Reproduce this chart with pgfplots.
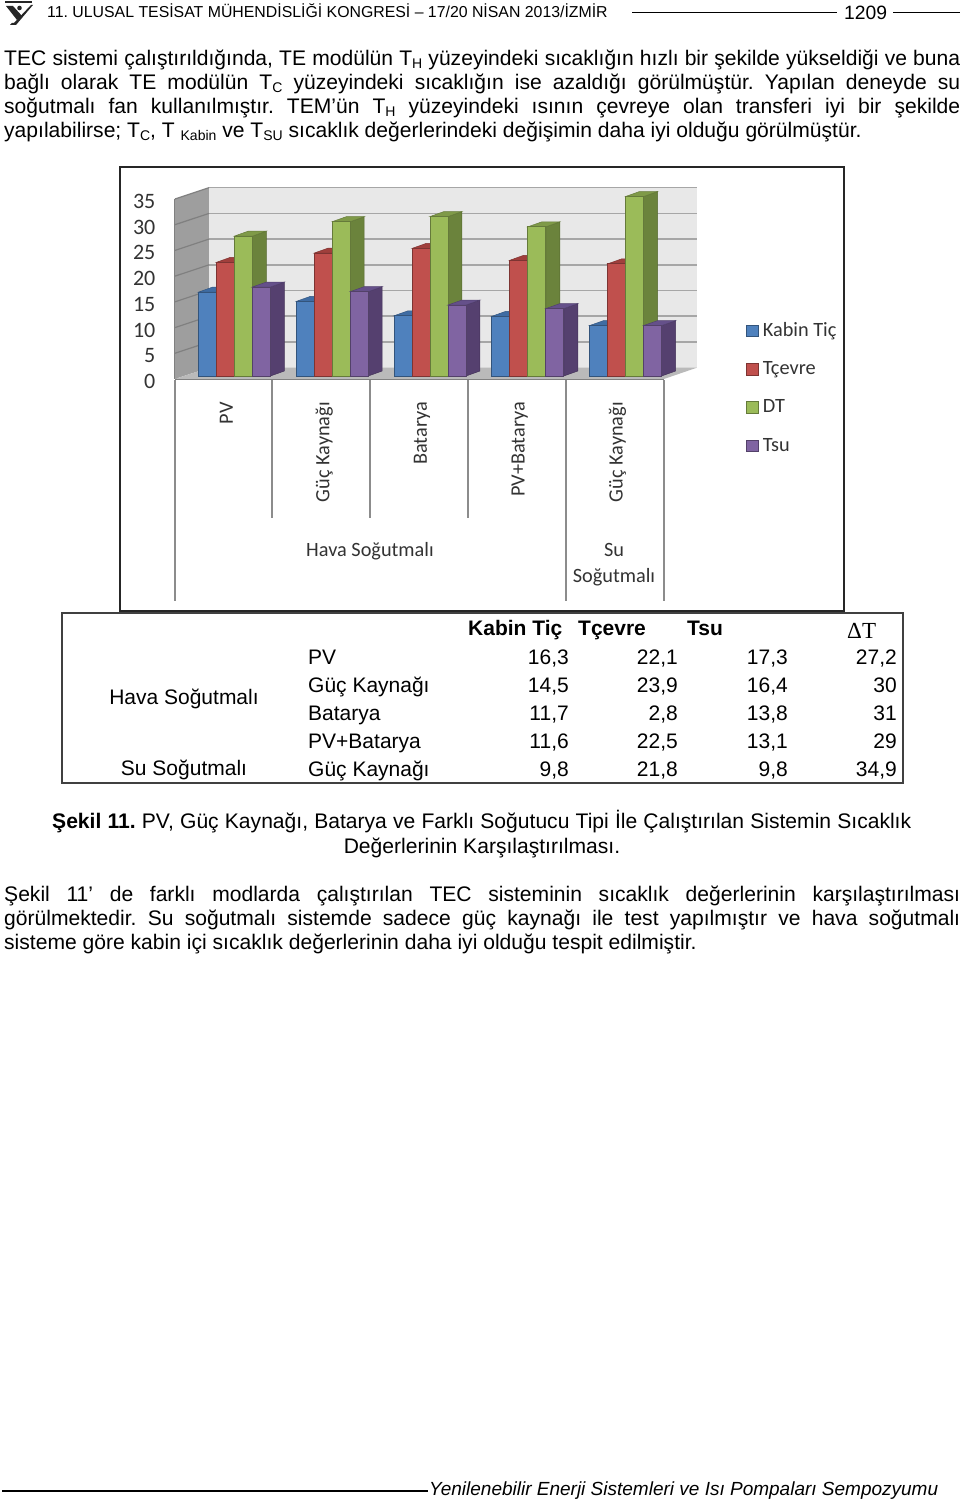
\documentclass[border=0pt]{standalone}
\usepackage{fontspec}
\usepackage{pgfplots}
\pgfplotsset{compat=1.18}
\setmainfont{Liberation Sans}
\newfontfamily\carl{Carlito}
\newfontfamily\timesf{Liberation Serif}
\frenchspacing
\definecolor{cb}{HTML}{4F81BD}\definecolor{cbs}{HTML}{3A5F8E}\definecolor{cbt}{HTML}{3F6CA3}
\definecolor{cr}{HTML}{C0504D}\definecolor{crs}{HTML}{8C3A38}\definecolor{crt}{HTML}{A03F3C}
\definecolor{cg}{HTML}{9BBB59}\definecolor{cgs}{HTML}{6B833C}\definecolor{cgt}{HTML}{7F9A48}
\definecolor{cp}{HTML}{8064A2}\definecolor{cps}{HTML}{55406F}\definecolor{cpt}{HTML}{65508A}
\newcommand\T[3]{\node[anchor=base west,inner sep=0pt] at (#1pt,1503pt-#2pt) {#3};}
\newcommand\R[3]{\node[anchor=base east,inner sep=0pt] at (#1pt,1503pt-#2pt) {#3};}
\newcommand\C[3]{\node[anchor=base,inner sep=0pt] at (#1pt,1503pt-#2pt) {#3};}
\newcommand\J[2]{\T{4}{#1}{\makebox[956pt][s]{#2}}}
\newcommand\sub[1]{\raisebox{-3.5pt}{\fontsize{14}{14}\selectfont #1}}
\pgfplotsset{sw/.style={legend image code/.code={\path[draw=none,fill=none] (0pt,0pt) rectangle (14pt,1pt);\fill[##1] (0pt,-5.5pt) rectangle (12pt,6pt);\draw[##1] (0pt,-5.5pt) rectangle (12pt,6pt);}}}
\newcommand\barseries[6]{%
  \gdef\coords{}%
  \pgfplotsforeachungrouped \c/\v in {#5}{%
    \pgfmathsetmacro\xa{\c+(#1-9)/97.8}%
    \pgfmathsetmacro\xb{\c+(#1+9)/97.8}%
    \pgfmathsetmacro\xc{\xb+0.143}%
    \pgfmathsetmacro\xd{\xa+0.143}%
    \pgfmathsetmacro\vt{\v+0.97}%
    \edef\tmp{\noexpand\addplot[forget plot,fill=#3,draw=#3!80!black,line width=0.5pt] coordinates {(\xb,0)(\xc,0.97)(\xc,\vt)(\xb,\v)} --cycle;
      \noexpand\addplot[forget plot,fill=#4,draw=#4!80!black,line width=0.5pt] coordinates {(\xa,\v)(\xb,\v)(\xc,\vt)(\xd,\vt)} --cycle;}%
    \tmp
    \xdef\coords{\coords(\c,\v)}%
  }%
  \edef\tmp{\noexpand\addplot[ybar,sw,bar width=18pt,bar shift=#1pt,fill=#2,draw=#2!65!black,line width=0.9pt] coordinates {\coords};}%
  \tmp
  \addlegendentry{#6}%
}
\begin{document}
\begin{tikzpicture}[x=1pt,y=1pt]
\fill[white] (0,0) rectangle (960,1503);
\path[use as bounding box] (0,0) rectangle (960,1503);
% header
\fill[black!85] (5,1503-1) rectangle (32,1503-3.5);
\fill[black!85] (6,1503-6) -- (13,1503-6) -- (22,1503-16) -- (17,1503-20) -- cycle;
\fill[black!85] (31,1503-5) -- (33,1503-5) -- (16,1503-25) -- (10,1503-25) -- (12,1503-23) -- (14,1503-23) -- cycle;
\fill[black!85] (19.5,1503-8) circle (2.3);
\fontsize{15.85}{19}\selectfont
\T{47}{18}{11. ULUSAL TESİSAT MÜHENDİSLİĞİ KONGRESİ – 17/20 NİSAN 2013/İZMİR}
\draw[black,line width=1pt] (632,1503-13) -- (837,1503-13);
\draw[black,line width=1pt] (893,1503-13) -- (960,1503-13);
\fontsize{19.3}{20}\selectfont
\T{844}{19.5}{1209}
% paragraph 1
\fontsize{21.08}{24}\selectfont
\J{65.5}{TEC sistemi çalıştırıldığında, TE modülün T\sub{H} yüzeyindeki sıcaklığın hızlı bir şekilde yükseldiği ve buna}
\J{89.5}{bağlı olarak TE modülün T\sub{C} yüzeyindeki sıcaklığın ise azaldığı görülmüştür. Yapılan deneyde su}
\J{113.5}{soğutmalı fan kullanılmıştır. TEM’ün T\sub{H} yüzeyindeki ısının çevreye olan transferi iyi bir şekilde}
\T{4}{137.5}{yapılabilirse; T\sub{C}, T \sub{Kabin} ve T\sub{SU} sıcaklık değerlerindeki değişimin daha iyi olduğu görülmüştür.}
% chart frame
\draw[black!85,line width=2pt] (120,1503-167) rectangle (844,1503-611);
% category separators
\begin{scope}[black!45,line width=1.2pt]
\foreach \x in {272,370,468} \draw (\x,1503-380) -- (\x,1503-518);
\foreach \x in {175,566,664} \draw (\x,1503-380) -- (\x,1503-601);
\end{scope}
% wall, floor, y axis, category labels
\begin{axis}[
  at={(175pt,1124pt)},anchor=south west,scale only axis,width=489pt,height=180pt,
  xmin=-0.5,xmax=4.5,ymin=0,ymax=35,clip=false,
  axis x line*=bottom,axis y line*=left,
  axis line style={-,draw=black!50,line width=1.3pt},
  ytick={0,5,...,35},xtick={0,1,2,3,4},
  xticklabels={PV,Güç Kaynağı,Batarya,PV+Batarya,Güç Kaynağı},
  /pgf/number format/assume math mode=true,
  x tick style={draw=none},major tick length=4pt,
  y tick style={draw=black!50,line width=1.2pt},
  xticklabel style={rotate=90,anchor=east,font=\carl\fontsize{20.3}{20}\selectfont,text=black!80,xshift=-23pt,yshift=-2.5pt,inner sep=0pt},
  yticklabel style={font=\carl\fontsize{22}{22}\selectfont,text=black!80,xshift=-19.5pt,yshift=-2.5pt,inner sep=0pt},
]
\addplot[forget plot,fill=black!38,draw=none] coordinates {(-0.5,0)(-0.152,2.2)(-0.152,37.2)(-0.5,35)} --cycle;
\addplot[forget plot,fill=black!9,draw=none] coordinates {(-0.152,2.2)(4.837,2.2)(4.837,37.2)(-0.152,37.2)} --cycle;
\addplot[forget plot,fill=black!27,draw=none] coordinates {(-0.5,0)(4.5,0)(4.837,2.2)(-0.152,2.2)} --cycle;
\pgfplotsforeachungrouped \k in {5,10,15,20,25,30,35}{%
  \pgfmathsetmacro\kk{\k+2.2}%
  \edef\tmp{\noexpand\addplot[forget plot,draw=black!35,line width=1.5pt] coordinates {(-0.152,\kk)(4.837,\kk)};
    \noexpand\addplot[forget plot,draw=black!50,line width=1.2pt] coordinates {(-0.5,\k)(-0.152,\kk)};}%
  \tmp
}
\end{axis}
% bars
\begin{axis}[
  at={(185.5pt,1127pt)},anchor=south west,scale only axis,width=489pt,height=180pt,
  xmin=-0.5,xmax=4.5,ymin=0,ymax=35,clip=false,hide axis,
  legend cell align=left,
  legend style={draw=none,fill=none,at={(1.147,0.309)},anchor=north west,inner sep=0pt,outer sep=0pt,
    font=\carl\fontsize{20.3}{20}\selectfont,text=black!80,
    /tikz/every even column/.style={column sep=0pt},row sep=18pt},
]
\barseries{-27}{cb}{cbs}{cbt}{0/16.3,1/14.5,2/11.7,3/11.6,4/9.8}{Kabin Tiç}
\barseries{-9}{cr}{crs}{crt}{0/22.1,1/23.9,2/24.8,3/22.5,4/21.8}{Tçevre}
\barseries{9}{cg}{cgs}{cgt}{0/27.2,1/30,2/31,3/29,4/34.9}{DT}
\barseries{27}{cp}{cps}{cpt}{0/17.3,1/16.4,2/13.8,3/13.1,4/9.8}{Tsu}
\end{axis}
% multi-level labels
\carl\fontsize{20.3}{20}\selectfont
\color{black!80}
\C{370}{557}{Hava Soğutmalı}
\C{614}{557}{Su}
\C{614}{583}{Soğutmalı}
\color{black}
\rmfamily\fontsize{21}{24}\selectfont
% table
\draw[black!75,line width=1.5pt] (62,1503-613) rectangle (903,1503-783);
\T{468}{636}{\bfseries Kabin Tiç}
\T{578}{636}{\bfseries Tçevre}
\T{687}{636}{\bfseries Tsu}
\T{847}{639}{\fontsize{23}{24}\timesf\selectfont ΔT}
\C{184}{705}{Hava Soğutmalı}
\C{184}{776}{Su Soğutmalı}
\T{308}{664.5}{PV}\T{308}{692.5}{Güç Kaynağı}\T{308}{720.5}{Batarya}\T{308}{748.5}{PV+Batarya}\T{308}{776.5}{Güç Kaynağı}
\R{569}{664.5}{16,3}\R{678}{664.5}{22,1}\R{788}{664.5}{17,3}\R{897}{664.5}{27,2}
\R{569}{692.5}{14,5}\R{678}{692.5}{23,9}\R{788}{692.5}{16,4}\R{897}{692.5}{30}
\R{569}{720.5}{11,7}\R{678}{720.5}{2,8}\R{788}{720.5}{13,8}\R{897}{720.5}{31}
\R{569}{748.5}{11,6}\R{678}{748.5}{22,5}\R{788}{748.5}{13,1}\R{897}{748.5}{29}
\R{569}{776.5}{9,8}\R{678}{776.5}{21,8}\R{788}{776.5}{9,8}\R{897}{776.5}{34,9}
% caption
\fontsize{21.08}{24}\selectfont
\T{52}{828.5}{\makebox[859pt][s]{\textbf{Şekil 11.} PV, Güç Kaynağı, Batarya ve Farklı Soğutucu Tipi İle Çalıştırılan Sistemin Sıcaklık}}
\C{482}{853.5}{Değerlerinin Karşılaştırılması.}
% paragraph 2
\J{901.5}{Şekil 11’ de farklı modlarda çalıştırılan TEC sisteminin sıcaklık değerlerinin karşılaştırılması}
\J{925.5}{görülmektedir. Su soğutmalı sistemde sadece güç kaynağı ile test yapılmıştır ve hava soğutmalı}
\T{4}{949.5}{sisteme göre kabin içi sıcaklık değerlerinin daha iyi olduğu tespit edilmiştir.}
% footer
\draw[black,line width=1.2pt] (2,1503-1491) -- (428,1503-1491);
\fontsize{19}{22}\selectfont
\T{429}{1495}{\itshape Yenilenebilir Enerji Sistemleri ve Isı Pompaları Sempozyumu}
\end{tikzpicture}
\end{document}
